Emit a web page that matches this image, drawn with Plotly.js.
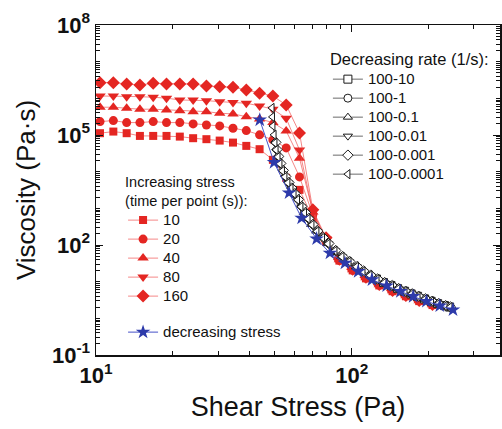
<!DOCTYPE html>
<html><head><meta charset="utf-8">
<script src="https://cdn.plot.ly/plotly-3.0.1.min.js"></script>
<style>html,body{margin:0;padding:0;background:#fff}#chart{width:502px;height:429px}</style>
</head><body><div id="chart"></div>
<script>
// ---- Increasing stress (shear stress, Pa) shared by the red series ----
const stressInc = [10.37, 11.69, 13.18, 14.85, 16.74, 18.87, 21.27, 23.98, 27.03, 30.46, 34.34, 38.71, 43.63, 49.18, 55.43, 62.50, 70.45, 79.41, 89.51, 100.9, 113.7, 128.2, 144.5, 162.9, 183.6, 207.0];
const visc10  = [1.12e5,1.24e5,1.12e5,9.44e4,9.44e4,9.44e4,9.04e4,8.18e4,7.69e4,7.04e4,6.21e4,5.05e4,4.10e4,2.10e4,6780,3190,551,122,37.5,20.3,12.3,7.9,5.5,4.0,2.95,2.3];
const visc20  = [2.32e5,2.47e5,2.18e5,2.18e5,2.32e5,2.18e5,2.18e5,2.01e5,1.88e5,1.77e5,1.53e5,1.32e5,1.01e5,7.36e4,4.45e4,7200,665,130,38.5,20.8,12.6,8.1,5.6,4.1,3.0,2.33];
const visc40  = [5.72e5,5.72e5,5.37e5,5.05e5,5.05e5,4.83e5,4.62e5,4.34e5,4.34e5,3.93e5,3.76e5,3.17e5,2.75e5,2.18e5,1.29e5,2.33e4,800,140,39.5,21.1,12.8,8.2,5.65,4.13,3.02,2.35];
const visc80  = [1.16e6,1.16e6,1.11e6,1.11e6,1.07e6,1.01e6,9.04e5,9.04e5,8.65e5,8.13e5,7.64e5,7.35e5,6.21e5,5.05e5,2.87e5,3.9e4,804,145,40.5,21.5,13.0,8.3,5.7,4.2,3.05,2.38];
const visc160 = [2.68e6,2.68e6,2.47e6,2.32e6,2.58e6,2.47e6,2.47e6,2.47e6,2.18e6,2.08e6,2.01e6,1.69e6,1.38e6,1.16e6,6.6e5,1.14e5,910,157,41,21.8,13.2,8.4,5.75,4.2,3.08,2.4];

// ---- Decreasing stress (blue stars) ----
const stressDec = [43.7, 49.7, 56.9, 63.7, 72.9, 82.2, 94.1, 106, 120, 137, 155, 174, 196, 221, 249];
const viscDec   = [2.58e5, 1.79e4, 2640, 541, 148, 60, 32, 19, 11.3, 7.7, 5.4, 3.95, 2.9, 2.2, 1.71];

// ---- Decreasing rate series (open black markers) ----
const stressR4 = [48.8,49.0,49.2,49.7,50.1,50.6,51.5,52.4,53.6,54.8,56.3,57.9,59.5,61.4,63.3,65.4,67.5,69.9,73.1,76.9,80.8,86.0,91.6,97.6,104.4,110.7,117.9,125.6,133.8,143.1,151.8,161.6,171.4,181.7,193.5,205.2,217.6,231.7,242.3];
const viscR4   = [5.47e5,3.11e5,1.77e5,1.01e5,6.09e4,3.93e4,2.53e4,1.63e4,1.05e4,7220,4950,3510,2480,1700,1100,754,517,355,236,157,108,69.5,47.7,34.9,25.5,19.2,14.9,11.6,9.33,7.73,6.40,5.41,4.59,3.95,3.36,2.89,2.50,2.20,2.01];
const stressR3 = [50.5,51.0,51.8,52.8,54.0,55.2,56.8,58.3,60.0,61.9,63.8,65.9,68.0,70.5,73.6,77.4,81.4,86.6,92.2,98.3,105.1,111.4,118.7,126.4,134.6,144.0,152.7,162.6,172.4,182.8,194.6,206.4,218.9,233.0,243.5];
const viscR3   = [6.3e4,4.0e4,2.6e4,1.68e4,1.08e4,7400,5050,3580,2530,1730,1120,770,527,362,240,160,110,70.8,48.5,35.5,25.9,19.5,15.1,11.8,9.45,7.83,6.48,5.47,4.64,3.99,3.39,2.92,2.52,2.22,2.03];
const stressR2 = [56.6,58.2,59.8,61.7,63.6,65.7,67.8,70.2,73.4,77.2,81.1,86.3,91.9,97.9,104.7,111.0,118.2,125.9,134.1,143.4,152.1,161.9,171.7,182.0,193.8,205.5,217.9,232.0,242.0];
const viscR2   = [4900,3480,2460,1690,1090,748,513,352,234,156,107,69,47.3,34.6,25.3,19.0,14.8,11.5,9.27,7.68,6.36,5.38,4.56,3.93,3.34,2.87,2.49,2.19,2.0];
const stressR1 = [65.0,67.1,69.5,72.7,76.5,80.4,85.6,91.2,97.2,104.0,110.3,117.5,125.2,133.4,142.7,151.4,161.2,171.0,181.3,193.1,204.8,217.2,231.3,241.8];
const viscR1   = [770,528,362,240,159,109,70,48,35.1,25.6,19.3,15.0,11.7,9.38,7.77,6.43,5.43,4.61,3.96,3.37,2.9,2.51,2.21,2.02];
const stressR0 = [86.3,91.9,97.9,104.7,111.0,118.2,125.9,134.1,143.4,152.1,161.9,171.7,182.0,193.8,205.5,217.9,232.0,242.5];
const viscR0   = [68.5,47.0,34.4,25.1,18.9,14.7,11.45,9.22,7.65,6.33,5.36,4.55,3.92,3.33,2.86,2.48,2.18,1.99];
const stressRm = [125.0,133.2,142.5,151.2,161.0,170.8,181.0,192.8,204.5,216.8,230.9,241.5];
const viscRm   = [11.8,9.45,7.82,6.46,5.46,4.63,3.98,3.38,2.91,2.52,2.22,2.03];

// ---- Labels ----
const incNames = ['10','20','40','80','160'];
const rateNames = ['100-10','100-1','100-0.1','100-0.01','100-0.001','100-0.0001'];
const decName = 'decreasing stress';
const incTitle = ['Increasing stress','(time per point (s)):'];
const rateTitle = 'Decreasing rate (1/s):';
const yTickVals = [0.1, 100, 1e5, 1e8];
const yTickText = ['10<sup>-1</sup>','10<sup>2</sup>','10<sup>5</sup>','10<sup>8</sup>'];
const xTickVals = [10, 100];
const xTickText = ['10<sup>1</sup>','10<sup>2</sup>'];

const sized = (t, px) => '<span style="font-size:' + px + 'px">' + t + '</span>';

const RED = 'rgb(228,38,34)';
const RED_LINE = 'rgba(238,70,70,0.65)';
const incSets = [[visc10,'square',8],[visc20,'circle',9],[visc40,'triangle-up',10],[visc80,'triangle-down',10],[visc160,'diamond',10]];
const traces = [];
incSets.forEach((s,k)=>{
  traces.push({x:stressInc, y:s[0], name:sized(incNames[k],15), type:'scatter', mode:'lines+markers',
    legend:'legend', legendgroup:'inc',
    line:{color:RED_LINE, width:1}, marker:{symbol:s[1], size:s[2], color:RED}});
});
const rateSets = [[stressRm,viscRm,'square'],[stressR0,viscR0,'circle'],[stressR1,viscR1,'triangle-up'],[stressR2,viscR2,'triangle-down'],[stressR3,viscR3,'diamond'],[stressR4,viscR4,'triangle-left']];
rateSets.forEach((s,k)=>{
  traces.push({x:s[0], y:s[1], name:sized(rateNames[k],15), type:'scatter', mode:'lines+markers',
    legend:'legend2', legendgroup:'rate',
    line:{color:'#6a6a6a', width:1},
    marker:{symbol:s[2], size:8, color:'white', line:{color:'#1a1a1a', width:1}}});
});
traces.push({x:stressDec, y:viscDec, name:sized(decName,15), type:'scatter', mode:'lines+markers',
  legend:'legend', legendgroup:'dec',
  line:{color:'rgb(70,80,200)', width:1}, marker:{symbol:'star', size:11, color:'rgb(45,58,170)'}});

// minor tick positions (styling only)
const yMinor = [];
for (let e=-1;e<8;e++){ for (let d=1; d<=9; d++){ if (d===1 && (e===-1 || e===2 || e===5)) continue; yMinor.push(d*Math.pow(10,e)); } }

const TICKFONT = {family:'Liberation Sans, Arial, sans-serif', size:22, weight:'bold', color:'#111'};

const layout = {
  width:502, height:429,
  margin:{l:96, r:2, t:25, b:74, pad:0},
  paper_bgcolor:'white', plot_bgcolor:'white',
  font:{family:'Liberation Sans, Arial, sans-serif', color:'#111'},
  showlegend:true,
  xaxis:{type:'log', range:[1,2.58], showline:true, linecolor:'#111', linewidth:1.5, mirror:'allticks',
    ticks:'inside', ticklen:7, tickwidth:1, tickcolor:'#111',
    tickmode:'array', tickvals:xTickVals, ticktext:xTickText,
    tickfont:TICKFONT, showgrid:false, zeroline:false,
    minor:{ticks:'inside', ticklen:4, tickwidth:1, tickcolor:'#111', tickmode:'array', tickvals:[20,30,40,50,60,70,80,90,200,300], showgrid:false},
    title:{text:'Shear Stress (Pa)', font:{size:27, color:'#111'}, standoff:10}},
  yaxis:{type:'log', range:[-1,8], showline:true, linecolor:'#111', linewidth:1.5, mirror:'allticks',
    ticks:'inside', ticklen:7, tickwidth:1, tickcolor:'#111',
    tickmode:'array', tickvals:yTickVals, ticktext:yTickText,
    tickfont:TICKFONT, showgrid:false, zeroline:false,
    minor:{ticks:'inside', ticklen:4, tickwidth:1, tickcolor:'#111', tickmode:'array', tickvals:yMinor, showgrid:false},
    title:{text:'Viscosity (Pa·s)', font:{size:26, color:'#111'}, standoff:9}},
  legend:{x:0.067, y:0.563, xanchor:'left', yanchor:'top', bgcolor:'rgba(0,0,0,0)', borderwidth:0,
    font:{size:12, color:'#111'}, traceorder:'grouped', tracegroupgap:17, itemwidth:30,
    title:{text:sized(incTitle[0],14.5) + '<br>' + sized(incTitle[1],14.5), font:{size:14, color:'#111'}}},
  legend2:{x:0.574, y:0.935, xanchor:'left', yanchor:'top', bgcolor:'rgba(0,0,0,0)', borderwidth:0,
    font:{size:12, color:'#111'}, traceorder:'normal', itemwidth:30,
    title:{text:sized(rateTitle,16.5), font:{size:14, color:'#111'}}}
};
Plotly.newPlot('chart', traces, layout, {staticPlot:true, displayModeBar:false});
</script></body></html>
